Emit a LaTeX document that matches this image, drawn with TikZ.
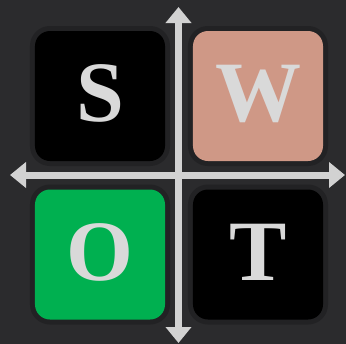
\documentclass[tikz,border=0pt]{standalone}
\usepackage{fontspec}
\setmainfont{Liberation Serif}
\usetikzlibrary{arrows.meta}
\definecolor{bg}{HTML}{2B2B2D}
\definecolor{halo}{HTML}{222224}
\definecolor{salmon}{HTML}{CF9886}
\definecolor{okgreen}{HTML}{00B050}
\definecolor{letter}{HTML}{D9D9D9}
\definecolor{axis}{HTML}{D2D2D2}
\tikzset{
  quad/.style={preaction={draw=halo,line width=10bp}, rounded corners=15bp,
    minimum width=130bp, minimum height=130bp, inner sep=0pt, outer sep=0pt},
  letterstyle/.style={text=letter, inner sep=0pt,
    font=\fontsize{86bp}{86bp}\selectfont\bfseries},
  axisline/.style={draw=axis, line width=7bp,
    arrows={Triangle[width=25bp,length=16bp]-Triangle[width=25bp,length=16bp]}}
}
\begin{document}
\begin{tikzpicture}[x=1bp,y=-1bp]
\fill[bg] (0,0) rectangle (346,344);
\useasboundingbox (0,0) rectangle (346,344);
\node[quad, fill=black]   (S) at (100,96)  {};
\node[quad, fill=salmon]  (W) at (258,96)  {};
\node[quad, fill=okgreen] (O) at (100,254.5) {};
\node[quad, fill=black]   (T) at (258,254.5) {};
\node[letterstyle] (sL) at ([yshift=2.5bp]S.center) {S};
\node[letterstyle] (wL) at ([yshift=2.5bp]W.center) {W};
\node[letterstyle] (oL) at ([yshift=2.5bp]O.center) {O};
\node[letterstyle] (tL) at ([yshift=2.5bp]T.center) {T};
\coordinate (left)   at (10,175);
\coordinate (right)  at (345,175);
\coordinate (top)    at (178.5,7);
\coordinate (bottom) at (178.5,343);
\draw[axisline] (left) -- (right);
\draw[axisline] (top) -- (bottom);
\end{tikzpicture}
\end{document}
